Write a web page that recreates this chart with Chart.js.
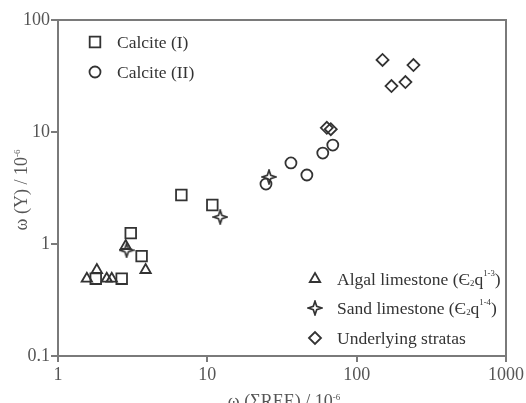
<!DOCTYPE html>
<html>
<head>
<meta charset="utf-8">
<script src="https://cdn.jsdelivr.net/npm/chart.js@4/dist/chart.umd.min.js"></script>
<style>
  html, body { margin: 0; padding: 0; background: #fff; }
  #wrap { width: 526px; height: 403px; position: relative; }
</style>
</head>
<body>
<div id="wrap"><canvas id="reeChart"></canvas></div>
<script>
// values (ppm, log-log)
const calciteIX  = [1.79, 2.67, 3.07, 3.63, 6.7, 10.8];
const calciteIY  = [0.49, 0.49, 1.25, 0.78, 2.74, 2.23];
const calciteIIX = [24.7, 36.3, 46.4, 59.3, 69.2];
const calciteIIY = [3.43, 5.29, 4.13, 6.49, 7.65];
const algalX     = [1.56, 1.82, 2.12, 2.29, 2.84, 3.86];
const algalY     = [0.49, 0.586, 0.49, 0.49, 0.96, 0.586];
const sandX      = [2.88, 12.2, 25.9];
const sandY      = [0.88, 1.74, 3.97];
const underX     = [63.1, 67.1, 149, 171, 212, 240];
const underY     = [10.9, 10.6, 44, 25.7, 27.9, 39.6];
const xTicks = [1, 10, 100, 1000];
const yTicks = [0.1, 1, 10, 100];

const INK = '#333';
const AXIS = '#7a7a7a';
const SERIF = '"Liberation Serif", "Times New Roman", serif';

// 4-point star outline, Chart.js has no such pointStyle
function makeStar() {
  const c = document.createElement('canvas');
  c.width = 16; c.height = 16;
  const g = c.getContext('2d');
  g.strokeStyle = INK; g.lineWidth = 1.7;
  g.beginPath();
  for (let i = 0; i < 8; i++) {
    const r = i % 2 === 0 ? 6.8 : 2.4;
    const a = -Math.PI / 2 + i * Math.PI / 4;
    const px = 8 + r * Math.cos(a), py = 8 + r * Math.sin(a);
    i === 0 ? g.moveTo(px, py) : g.lineTo(px, py);
  }
  g.closePath(); g.stroke();
  return c;
}
const starImg = makeStar();

const pts = (xs, ys) => xs.map((x, i) => ({ x: x, y: ys[i] }));
const ds = (label, xs, ys, style, r) => ({
  label, data: pts(xs, ys), pointStyle: style, pointRadius: r, pointHoverRadius: r,
  borderColor: INK, backgroundColor: 'rgba(0,0,0,0)', pointBorderWidth: 1.8, showLine: false
});

// rich text: segments of [text, 'sup'|'sub'|undefined], centered or left-aligned at (x, y)
function richText(ctx, segs, x, y, size, align) {
  const widths = segs.map(([t, k]) => {
    ctx.font = (k ? size * 0.5 : size) + 'px ' + SERIF;
    return ctx.measureText(t).width;
  });
  const total = widths.reduce((a, b) => a + b, 0);
  let cx = align === 'center' ? x - total / 2 : x;
  segs.forEach(([t, k], i) => {
    ctx.font = (k ? size * 0.5 : size) + 'px ' + SERIF;
    const dy = k === 'sup' ? -size * 0.38 : k === 'sub' ? size * 0.2 : 0;
    ctx.fillText(t, cx, y + dy);
    cx += widths[i];
  });
}

const legendItems = [
  { style: 'rect', r: 7.5, x: 95, y: 42, segs: [['Calcite (I)']] },
  { style: 'circle', r: 5.5, x: 95, y: 72, segs: [['Calcite (II)']] },
  { style: 'triangle', r: 6, x: 315, y: 279, segs: [['Algal limestone (Є'], ['2', 'sub'], ['q'], ['1-3', 'sup'], [')']] },
  { style: starImg, r: 7, x: 315, y: 308, segs: [['Sand limestone (Є'], ['2', 'sub'], ['q'], ['1-4', 'sup'], [')']] },
  { style: 'rectRot', r: 6, x: 315, y: 338, segs: [['Underlying stratas']] }
];

const decor = {
  id: 'decor',
  afterDraw(chart) {
    const { ctx, chartArea: a } = chart;
    ctx.save();
    // box around plot
    ctx.strokeStyle = AXIS; ctx.lineWidth = 2;
    ctx.strokeRect(a.left, a.top, a.right - a.left, a.bottom - a.top);
    // legends
    ctx.strokeStyle = INK; ctx.lineWidth = 1.8; ctx.fillStyle = 'rgba(0,0,0,0)';
    legendItems.forEach(it => {
      Chart.helpers.drawPoint(ctx, { pointStyle: it.style, radius: it.r, rotation: 0, borderWidth: 1.8 }, it.x, it.y);
    });
    ctx.fillStyle = '#333'; ctx.textBaseline = 'middle'; ctx.textAlign = 'left';
    legendItems.forEach(it => richText(ctx, it.segs, it.x + 22, it.y + 1, 17.5, 'left'));
    // axis titles
    ctx.fillStyle = '#555';
    ctx.textBaseline = 'alphabetic';
    richText(ctx, [['ω (ΣREE) / 10'], ['-6', 'sup']], (a.left + a.right) / 2 + 2, 407, 18, 'center');
    ctx.translate(27, 190);
    ctx.rotate(-Math.PI / 2);
    richText(ctx, [['ω (Y) / 10'], ['-6', 'sup']], 0, 0, 18, 'center');
    ctx.restore();
  }
};

new Chart(document.getElementById('reeChart'), {
  type: 'scatter',
  data: {
    datasets: [
      ds('Calcite (I)', calciteIX, calciteIY, 'rect', 7.5),
      ds('Calcite (II)', calciteIIX, calciteIIY, 'circle', 5.5),
      ds('Algal limestone', algalX, algalY, 'triangle', 6),
      ds('Sand limestone', sandX, sandY, starImg, 7),
      ds('Underlying stratas', underX, underY, 'rectRot', 6)
    ]
  },
  options: {
    responsive: true,
    maintainAspectRatio: false,
    animation: false,
    layout: { padding: { top: 20, right: 18, left: 0, bottom: 0 } },
    plugins: { legend: { display: false }, tooltip: { enabled: false } },
    scales: {
      x: {
        type: 'logarithmic', min: 1, max: 1000,
        afterBuildTicks: s => { s.ticks = xTicks.map(v => ({ value: v })); },
        afterFit: s => { s.height = 47; },
        ticks: { color: '#555', font: { family: SERIF, size: 18 }, padding: 2, maxRotation: 0, autoSkip: false,
                 callback: v => String(v) },
        grid: { drawOnChartArea: false, drawTicks: true, tickLength: 6, color: AXIS, lineWidth: 2 },
        border: { display: true, color: AXIS, width: 2 }
      },
      y: {
        type: 'logarithmic', min: 0.1, max: 100,
        afterBuildTicks: s => { s.ticks = yTicks.map(v => ({ value: v })); },
        afterFit: s => { s.width = 58; },
        ticks: { color: '#555', font: { family: SERIF, size: 18 }, padding: 1, autoSkip: false,
                 callback: v => String(v) },
        grid: { drawOnChartArea: false, drawTicks: true, tickLength: 7, color: AXIS, lineWidth: 2 },
        border: { display: true, color: AXIS, width: 2 }
      }
    }
  },
  plugins: [decor]
});
</script>
</body>
</html>
